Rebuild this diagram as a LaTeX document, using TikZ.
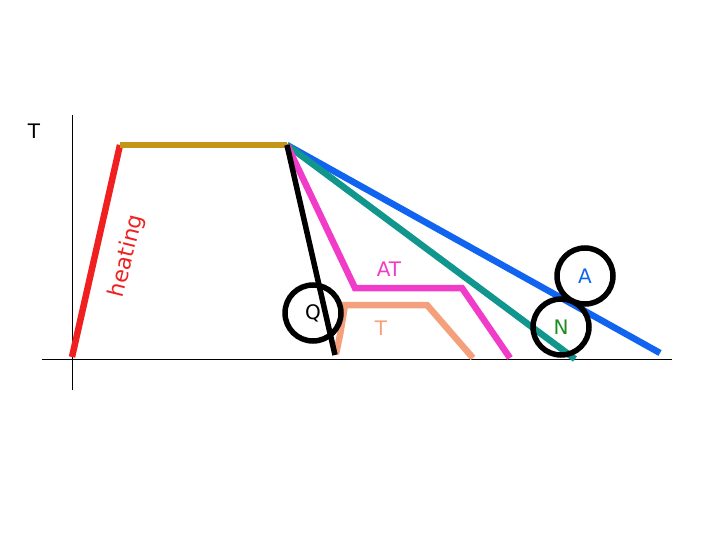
\documentclass[tikz,border=0pt]{standalone}
\usepackage{fontspec}
\setmainfont{DejaVu Sans}
\begin{document}
\begin{tikzpicture}[x=1pt,y=-1pt,
  curve/.style={line width=6.5pt,line join=miter},
  ring/.style={circle,draw=black,line width=5.5pt,minimum size=56pt,inner sep=0pt,font=\fontsize{20}{24}\selectfont},
  lbl/.style={font=\fontsize{20}{24}\selectfont,inner sep=0pt},
  axis/.style={line width=1pt,black}]
\useasboundingbox (0,0) rectangle (720,540);
\definecolor{cred}{RGB}{240,32,32}
\definecolor{cgold}{RGB}{196,150,24}
\definecolor{cpink}{RGB}{240,60,200}
\definecolor{cteal}{RGB}{16,150,140}
\definecolor{cblue}{RGB}{16,100,240}
\definecolor{csalmon}{RGB}{244,160,124}
\definecolor{cgreen}{RGB}{30,140,30}
% axes
\coordinate (ytop) at (72,115);
\coordinate (ybot) at (72,390);
\coordinate (xl) at (42,359);
\coordinate (xr) at (672,359);
\draw[axis] (ytop) -- (ybot);
\draw[axis] (xl) -- (xr);
\node[lbl] (Tax) at (34,131) {T};
% key points
\coordinate (s) at (72,357);
\coordinate (h) at (120,145);
\coordinate (c) at (287,145);
% curves
\draw[curve,cred] (s) -- (h);
\draw[curve,cgold] (h) -- (c);
\coordinate (bq) at (335,355);
\draw[curve,cblue] (c) -- (660,353) coordinate (be);
\draw[curve,cteal] (c) -- (575,359) coordinate (te);
\draw[curve,csalmon] (336,354) coordinate (sa) -- (340,335) -- (345,305) -- (427,305) -- (473,358) coordinate (se);
\draw[curve,cpink] (c) -- (355,288) -- (462,288) -- (510,358) coordinate (pe);
\draw[line width=5.5pt,black] (c) -- (bq);
% rings
\node[ring] (Q) at (313,313) {Q};
\node[ring,text=cblue] (A) at (585,276) {A};
\node[ring,text=cgreen] (N) at (561,327) {N};
% labels
\node[lbl,text=cpink] (AT) at (389,269) {AT};
\node[lbl,text=csalmon] (Tl) at (381,328) {T};
\node[lbl,text=cred,rotate=76,font=\fontsize{22}{26}\selectfont] (heat) at (127,256) {heating};
\end{tikzpicture}
\end{document}
